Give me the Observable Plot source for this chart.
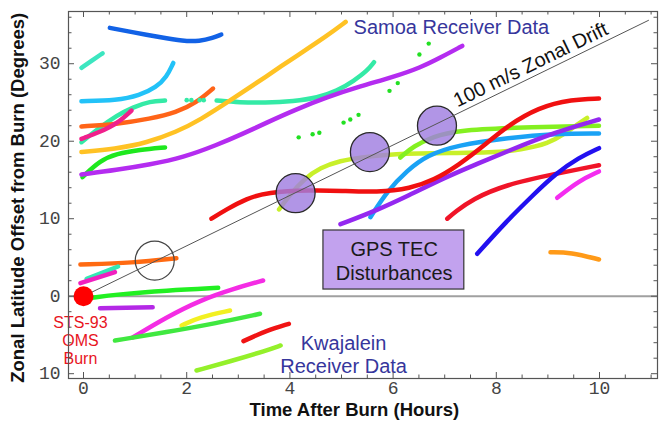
<!DOCTYPE html>
<html><head><meta charset="utf-8">
<script src="https://cdn.jsdelivr.net/npm/d3@7"></script>
<script src="https://cdn.jsdelivr.net/npm/@observablehq/plot@0.6"></script>
<style>html,body{margin:0;padding:0;background:#fff} svg{display:block}</style>
</head><body><div id="chart"></div>
<script>
// ---- axes ----
const xDomain = [-0.291, 11.124];
const yDomain = [-10.62, 36.74];
const xMajor = [0, 2, 4, 6, 8, 10];
const xMinor = [0.5,1,1.5,2.5,3,3.5,4.5,5,5.5,6.5,7,7.5,8.5,9,9.5,10.5,11];
const yMajor = [-10, 0, 10, 20, 30];
const yMinor = [-8,-6,-4,-2,2,4,6,8,12,14,16,18,22,24,26,28,32,34,36];

// ---- Samoa receiver tracks (hours, degrees) ----
const blueTop = [[0.51,34.63],[0.96,34.06],[1.48,33.42],[1.93,32.9],[2.25,32.9],[2.51,33.34],[2.67,33.77]];
const aquaTop = [[-0.04,29.47],[0.16,30.4],[0.37,31.35]];
const skyBlue = [[-0.04,25.16],[0.64,25.25],[1.09,25.9],[1.41,26.97],[1.61,28.26],[1.74,30.1]];
const springA = [[-0.04,19.87],[0.32,21.8],[0.64,23.3],[0.96,24.4],[1.29,25.16],[1.58,25.25]];
const springB = [[2.58,25.25],[3.03,25.0],[3.5,24.95],[4.08,25.16],[4.53,25.6],[4.92,26.5],[5.24,27.8],[5.5,29.1],[5.63,30.2]];
const springDots = [[2.0,25.3],[2.09,25.3],[2.25,25.3],[2.33,25.3]];
const orangeRed = [[-0.04,21.9],[0.64,22.2],[1.29,22.9],[1.8,23.7],[2.19,25.0],[2.51,26.8]];
const deepPink = [[-0.04,20.3],[0.32,21.2],[0.64,22.2],[0.93,23.96]];
const gold = [[-0.04,18.6],[0.61,19.0],[1.23,19.8],[1.8,21.2],[2.25,22.7],[2.9,25.5],[3.55,28.4],[4.08,30.8],[4.72,33.6],[5.08,35.4]];
const greenTop = [[-0.02,15.36],[0.32,17.5],[0.64,18.4],[1.09,18.9],[1.58,19.2]];
const purpleLong = [[-0.04,15.7],[0.64,16.3],[1.29,17.0],[1.93,17.9],[2.58,19.5],[3.1,21.0],[3.55,22.4],[4.08,24.0],[4.72,25.7],[5.37,27.1],[6.01,28.3],[6.53,29.5],[6.92,30.8],[7.34,32.3]];
const redMid = [[2.48,10.0],[2.77,11.2],[3.16,12.6],[3.55,13.4],[4.4,13.7],[5.0,13.6],[5.69,13.4],[6.34,13.9],[6.79,15.0],[7.25,16.8],[7.85,19.9],[8.18,21.8],[8.82,24.4],[9.47,25.4],[9.99,25.5]];
const limeMid = [[3.79,11.2],[4.0,13.1],[4.27,15.1],[4.59,16.6],[4.98,17.5],[5.37,17.9],[5.95,18.4],[7.21,18.5],[7.85,18.5],[8.5,18.9],[9.01,19.7],[9.34,21.0],[9.6,22.3],[9.76,23.0]];
const lawnGreen = [[6.14,17.9],[6.4,19.4],[6.79,20.6],[7.2,21.4],[8.5,21.8],[9.99,22.0]];
const dodgerBlue = [[5.56,10.2],[5.89,13.6],[6.27,16.2],[6.66,18.2],[7.25,19.5],[8.18,20.4],[9.15,21.0],[9.99,21.0]];
const violetMid = [[4.98,9.3],[5.69,11.1],[6.3,13.0],[7.0,15.3],[7.6,17.0],[8.18,18.6],[9.15,21.2],[9.99,22.8]];
const redLow = [[7.05,10.0],[7.21,10.9],[7.53,12.5],[8.18,14.4],[9.15,15.8],[9.99,16.9]];
const blueDark = [[7.63,5.47],[8.18,9.55],[8.75,13.3],[9.15,15.8],[9.6,17.9],[9.99,19.1]];
const magentaRight = [[9.18,12.7],[9.6,14.9],[9.99,16.1]];
const orangeRight = [[9.05,5.68],[9.44,5.68],[9.99,4.74]];
const greenDots = [[4.17,20.5],[4.44,20.9],[4.57,21.1],[5.04,22.4],[5.17,22.8],[5.33,23.4],[5.93,26.5],[6.09,27.5],[6.51,31.2],[6.69,32.6]];

// ---- Kwajalein receiver tracks ----
const orangeLow = [[-0.06,4.09],[0.96,4.3],[1.8,4.9]];
const tealShort = [[0.06,2.24],[0.67,3.83]];
const pinkShort = [[-0.06,1.68],[0.61,3.1]];
const greenZero = [[0.16,-0.2],[0.64,0.22],[1.61,0.74],[2.61,1.08]];
const purpleShort = [[0.32,-1.55],[1.34,-1.42]];
const magentaLong = [[0.96,-5.3],[1.61,-2.7],[2.25,-0.55],[2.9,0.95],[3.48,2.03]];
const yellowShort = [[1.9,-3.78],[2.25,-2.7],[2.84,-1.85]];
const greenLow = [[0.61,-5.72],[1.61,-4.64],[2.58,-3.48],[3.42,-2.27]];
const redShort = [[3.1,-5.8],[3.55,-4.43],[3.98,-3.56]];
const limeLow = [[2.19,-9.59],[2.9,-8.3],[3.55,-7.0],[3.82,-6.36]];

// ---- annotations ----
const burn = [[0, 0]];
const drift = [[0, 0], [10.95, 35.6]];
const tecCircles = [[4.11, 13.3], [5.55, 18.6], [6.85, 22.0]];
const openCircle = [[1.38, 4.6]];
const tecBox = [[4.65, 7.38, 0.86, 8.48]];

const curves = [
  ["blueTop", blueTop], ["aquaTop", aquaTop], ["skyBlue", skyBlue], ["springA", springA], ["springB", springB],
  ["orangeRed", orangeRed], ["deepPink", deepPink], ["gold", gold], ["greenTop", greenTop], ["purpleLong", purpleLong],
  ["limeMid", limeMid], ["lawnGreen", lawnGreen], ["dodgerBlue", dodgerBlue], ["violetMid", violetMid], ["redMid", redMid],
  ["redLow", redLow], ["blueDark", blueDark], ["magentaRight", magentaRight], ["orangeRight", orangeRight],
  ["orangeLow", orangeLow], ["tealShort", tealShort], ["pinkShort", pinkShort], ["greenZero", greenZero],
  ["purpleShort", purpleShort], ["magentaLong", magentaLong], ["yellowShort", yellowShort], ["greenLow", greenLow],
  ["redShort", redShort], ["limeLow", limeLow]
];
const curveColor = {
  blueTop:"#1262e6", aquaTop:"#3ce6c0", skyBlue:"#22c2f8", springA:"#34eaa6", springB:"#34eaa6",
  orangeRed:"#ff6418", deepPink:"#f0208c", gold:"#ffc224", greenTop:"#1ee81e", purpleLong:"#b42cf0",
  limeMid:"#c8f02a", lawnGreen:"#84f020", dodgerBlue:"#1aa2f5", violetMid:"#9428f0", redMid:"#f01010",
  redLow:"#f01428", blueDark:"#2210f0", magentaRight:"#f42cf0", orangeRight:"#ff9a18",
  orangeLow:"#ff6a12", tealShort:"#34e8b4", pinkShort:"#f020c0", greenZero:"#22f022",
  purpleShort:"#b428e6", magentaLong:"#f42ce4", yellowShort:"#f2f022", greenLow:"#40e840",
  redShort:"#f01414", limeLow:"#94f02a"
};
const rows = curves.flatMap(([id, pts]) => pts.map(([x, y]) => ({id, x, y})));

const W = 660, H = 427, mL = 68, mR = 3, mT = 11, mB = 49;
const kx = (xDomain[1] - xDomain[0]) / (W - mL - mR);
const ky = (yDomain[1] - yDomain[0]) / (H - mT - mB);
const tickC = "#555";
const tickMarks = (len, xs, ys) => [
  Plot.ruleX(xs, {x: d => d, y1: yDomain[0], y2: yDomain[0] + len * ky, stroke: tickC}),
  Plot.ruleX(xs, {x: d => d, y1: yDomain[1], y2: yDomain[1] - len * ky, stroke: tickC}),
  Plot.ruleY(ys, {y: d => d, x1: xDomain[0], x2: xDomain[0] + len * kx, stroke: tickC}),
  Plot.ruleY(ys, {y: d => d, x1: xDomain[1], x2: xDomain[1] - len * kx, stroke: tickC})
];

const sans = "Liberation Sans, Arial, sans-serif";
const chart = Plot.plot({
  width: W, height: H, marginLeft: mL, marginRight: mR, marginTop: mT, marginBottom: mB,
  x: {domain: xDomain, axis: null},
  y: {domain: yDomain, axis: null},
  color: {type: "identity"},
  style: {fontFamily: sans, background: "#fff", overflow: "visible"},
  marks: [
    Plot.ruleY([0], {stroke: "#a0a0a0", strokeWidth: 2}),
    Plot.rect(tecBox, {x1: d => d[0], x2: d => d[1], y1: d => d[2], y2: d => d[3], fill: "#c2a2ee", stroke: "#333", strokeWidth: 1.2}),
    Plot.line(rows, {x: "x", y: "y", z: "id", stroke: d => curveColor[d.id], strokeWidth: 4.5, strokeLinecap: "round", strokeLinejoin: "round", curve: "basis"}),
    Plot.dot(springDots, {x: d => d[0], y: d => d[1], r: 2.3, fill: "#34eaa6"}),
    Plot.dot(greenDots, {x: d => d[0], y: d => d[1], r: 2.2, fill: "#22e022"}),
    Plot.dot(tecCircles, {x: d => d[0], y: d => d[1], r: 19.5, fill: "#a07ee0", fillOpacity: 0.82, stroke: "#2a2a2a", strokeWidth: 1.3}),
    Plot.line(drift, {x: d => d[0], y: d => d[1], stroke: "#555", strokeWidth: 1}),
    Plot.dot(openCircle, {x: d => d[0], y: d => d[1], r: 19.5, fill: "none", stroke: "#444", strokeWidth: 1.2}),
    Plot.dot(burn, {x: d => d[0], y: d => d[1], r: 10, fill: "#ff0000"}),
    Plot.text(["100 m/s Zonal Drift"], {x: 8.72, y: 28.35, rotate: -26, dy: -6, lineAnchor: "bottom", fontSize: 20, fill: "#111"}),
    Plot.text(["Samoa Receiver Data"], {x: 7.13, y: 34.67, fontSize: 20, fill: "#36369c"}),
    Plot.text(["Kwajalein\nReceiver Data"], {x: 5.04, y: -7.46, fontSize: 20, lineHeight: 1.15, fill: "#36369c"}),
    Plot.text(["STS-93\nOMS\nBurn"], {x: -0.06, y: -5.72, fontSize: 16, lineHeight: 1.125, fill: "#e8141e"}),
    Plot.text(["GPS TEC\nDisturbances"], {x: 6.02, y: 4.6, fontSize: 20, lineHeight: 1.2, fill: "#1a1a1a"}),
    Plot.frame({stroke: "#555", strokeWidth: 1.2}),
    ...tickMarks(6, xMajor, yMajor),
    ...tickMarks(3.5, xMinor, yMinor),
    Plot.text(xMajor, {x: d => d, frameAnchor: "bottom", dy: 15, textAnchor: "middle", text: d => String(d), fontFamily: "Liberation Mono, monospace", fontSize: 18, fill: "#444"}),
    Plot.text(yMajor, {y: d => d, frameAnchor: "left", dx: -8, textAnchor: "end", text: d => String(Math.abs(d)), fontFamily: "Liberation Mono, monospace", fontSize: 18, fill: "#444"}),
    Plot.text(["Time After Burn (Hours)"], {x: 5.25, frameAnchor: "bottom", dy: 37, textAnchor: "middle", fontSize: 18.5, fontWeight: "bold", fill: "#111"}),
    Plot.text(["Zonal Latitude Offset from Burn (Degrees)"], {y: 12.7, frameAnchor: "left", dx: -50, textAnchor: "middle", rotate: -90, fontSize: 18.5, fontWeight: "bold", fill: "#111"})
  ]
});
document.getElementById("chart").appendChild(chart);
</script>
</body></html>
